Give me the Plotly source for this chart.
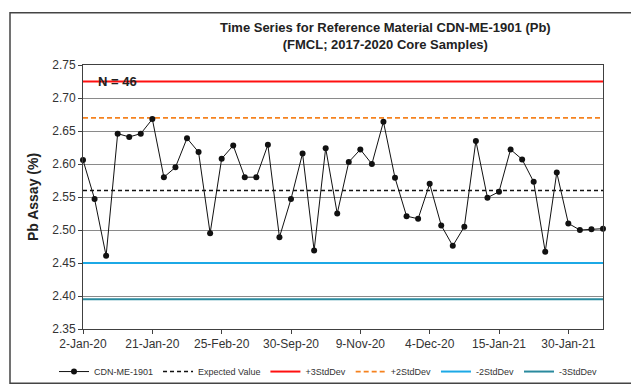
import plotly.graph_objects as go

# ---- data ----
pb_values = [2.606, 2.547, 2.461, 2.646, 2.641, 2.646, 2.668, 2.580, 2.595, 2.639,
             2.618, 2.495, 2.608, 2.628, 2.580, 2.580, 2.629, 2.489, 2.547, 2.616,
             2.469, 2.624, 2.525, 2.603, 2.622, 2.600, 2.664, 2.579, 2.521, 2.517,
             2.570, 2.507, 2.476, 2.505, 2.635, 2.549, 2.558, 2.622, 2.607, 2.573,
             2.467, 2.587, 2.510, 2.500, 2.501, 2.502]
tick_positions = [0, 6, 12, 18, 24, 30, 36, 42]
tick_labels = ["2-Jan-20", "21-Jan-20", "25-Feb-20", "30-Sep-20",
               "9-Nov-20", "4-Dec-20", "15-Jan-21", "30-Jan-21"]
expected_value = 2.56
plus3_sd = 2.725
plus2_sd = 2.67
minus2_sd = 2.45
minus3_sd = 2.395
n_samples = len(pb_values)

x_idx = list(range(n_samples))

FONT = "Liberation Sans, Arial, sans-serif"

fig = go.Figure()

def hline(name, val, color, width, dash, rank):
    fig.add_trace(go.Scatter(
        x=x_idx, y=[val] * n_samples, mode="lines", name=name,
        legendrank=rank,
        line=dict(color=color, width=width, dash=dash), hoverinfo="skip"))

hline("Expected Value", expected_value, "#111111", 1.5, "4px,3px", 2)
hline("+3StdDev", plus3_sd, "#FF1010", 2, "solid", 3)
hline("+2StdDev", plus2_sd, "#F5821F", 1.8, "5px,3px", 4)
hline("-2StdDev", minus2_sd, "#1CA9E6", 2, "solid", 5)
hline("-3StdDev", minus3_sd, "#2A8A9E", 2, "solid", 6)
fig.add_trace(go.Scatter(
    x=x_idx, y=pb_values, mode="lines+markers", name="CDN-ME-1901",
    legendrank=1,
    line=dict(color="#111111", width=1),
    marker=dict(color="#111111", size=6), cliponaxis=False))

L, R, T, B = 75, 44, 57, 60
W, H = 639, 390
pw, ph = W - L - R, H - T - B

fig.update_layout(
    width=W, height=H,
    margin=dict(l=L, r=R, t=T, b=B),
    paper_bgcolor="white", plot_bgcolor="white",
    font=dict(family=FONT, color="#222222"),
    showlegend=True,
    legend=dict(orientation="h", x=(46 - L) / pw, xanchor="left",
                y=(T + ph - 374) / ph, yanchor="middle",
                font=dict(size=9, family=FONT, color="#333333"),
                itemwidth=30, tracegroupgap=0, traceorder="normal",
                bgcolor="rgba(0,0,0,0)"),
    xaxis=dict(range=[0, n_samples - 1], tickmode="array",
               tickvals=tick_positions, ticktext=tick_labels,
               showgrid=False, zeroline=False,
               showline=True, linecolor="#404040", linewidth=1, mirror=True,
               ticks="outside", ticklen=4, tickcolor="#404040",
               tickfont=dict(size=12, family=FONT, color="#333333")),
    yaxis=dict(range=[2.35, 2.75], dtick=0.05, tickformat=".2f",
               showgrid=True, gridcolor="#8a8a8a", gridwidth=1,
               zeroline=False, showline=True, linecolor="#404040",
               linewidth=1, mirror=True, ticks="outside", ticklen=4,
               tickcolor="#404040",
               tickfont=dict(size=12, family=FONT, color="#333333"),
               title=dict(text="<b>Pb Assay (%)</b>", standoff=10,
                          font=dict(size=14, family=FONT, color="#222222"))),
    annotations=[
        dict(text="<b>Time Series for Reference Material CDN-ME-1901 (Pb)</b><br>"
                  "<b>(FMCL; 2017-2020 Core Samples)</b>",
             xref="paper", yref="paper",
             x=(377 - L) / pw, y=(T + ph - 27) / ph, xanchor="center",
             yanchor="middle", showarrow=False,
             font=dict(size=13, family=FONT, color="#222222")),
        dict(text="<b>N = %d</b>" % n_samples, xref="paper", yref="y",
             x=(88 - L) / pw, y=plus3_sd, xanchor="left", yanchor="middle",
             showarrow=False, font=dict(size=13, family=FONT, color="#222222")),
    ],
    shapes=[dict(type="rect", xref="paper", yref="paper",
                 x0=(2 - L) / pw, x1=(638 - L) / pw,
                 y0=(T + ph - 386) / ph, y1=(T + ph - 3) / ph,
                 line=dict(color="#444444", width=1.5))],
)

fig.write_html("out.html")
